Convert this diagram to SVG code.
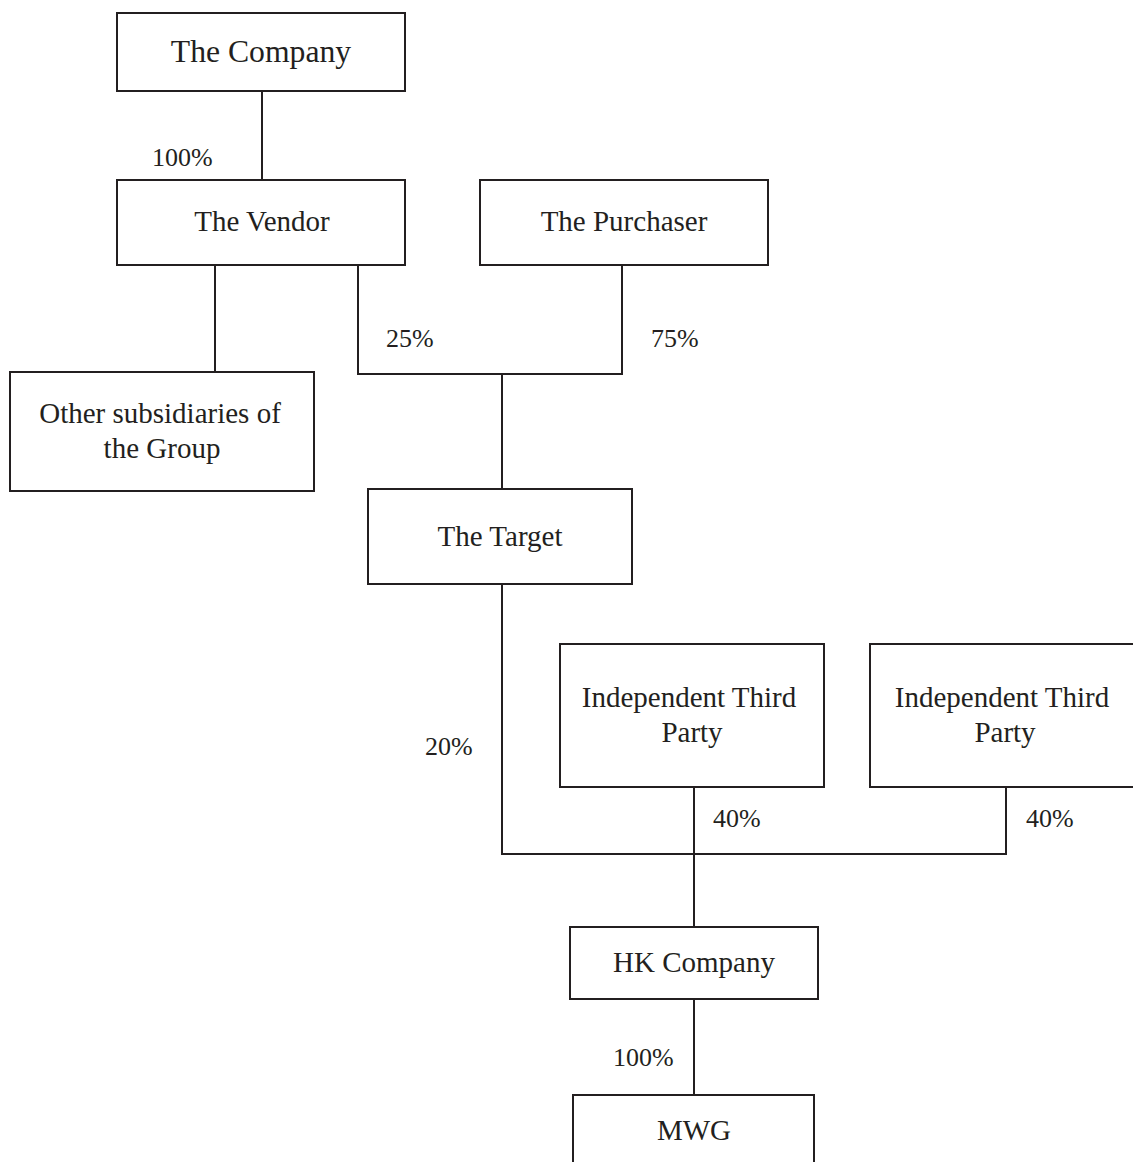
<svg xmlns="http://www.w3.org/2000/svg" width="1133" height="1162" viewBox="0 0 1133 1162">
<style>
.box{fill:#fff;stroke:#231f20;stroke-width:2}
.ln{fill:none;stroke:#231f20;stroke-width:2}
text{font-family:"Liberation Serif","Times New Roman",serif;fill:#231f20}
.t{font-size:29px;text-anchor:middle}
.p{font-size:26px}
</style>
<rect width="1133" height="1162" fill="#fff"/>
<g id="connectors">
<path class="ln" d="M262 91V180"/>
<path class="ln" d="M215 265V372"/>
<path class="ln" d="M358 265V374H622V265"/>
<path class="ln" d="M502 374V489"/>
<path class="ln" d="M502 584V854H1006V787"/>
<path class="ln" d="M694 787V927"/>
<path class="ln" d="M694 999V1095"/>
<text class="p" x="152" y="166">100%</text>
<text class="p" x="386" y="347">25%</text>
<text class="p" x="651" y="347">75%</text>
<text class="p" x="425" y="755">20%</text>
<text class="p" x="713" y="827">40%</text>
<text class="p" x="1026" y="827">40%</text>
<text class="p" x="613" y="1066">100%</text>
</g>
<g id="company"><rect class="box" x="117" y="13" width="288" height="78"/><text class="t" x="261" y="62" style="font-size:31.7px">The Company</text></g>
<g id="vendor"><rect class="box" x="117" y="180" width="288" height="85"/><text class="t" x="262" y="231">The Vendor</text></g>
<g id="purchaser"><rect class="box" x="480" y="180" width="288" height="85"/><text class="t" x="624" y="231">The Purchaser</text></g>
<g id="others"><rect class="box" x="10" y="372" width="304" height="119"/><text class="t" x="160" y="423">Other subsidiaries of</text><text class="t" x="162" y="458">the Group</text></g>
<g id="target"><rect class="box" x="368" y="489" width="264" height="95"/><text class="t" x="500" y="546">The Target</text></g>
<g id="itp1"><rect class="box" x="560" y="644" width="264" height="143"/><text class="t" x="689" y="707">Independent Third</text><text class="t" x="692" y="742">Party</text></g>
<g id="itp2"><rect class="box" x="870" y="644" width="270" height="143"/><text class="t" x="1002" y="707">Independent Third</text><text class="t" x="1005" y="742">Party</text></g>
<g id="hk"><rect class="box" x="570" y="927" width="248" height="72"/><text class="t" x="694" y="972">HK Company</text></g>
<g id="mwg"><rect class="box" x="573" y="1095" width="241" height="80"/><text class="t" x="694" y="1140">MWG</text></g>
</svg>
